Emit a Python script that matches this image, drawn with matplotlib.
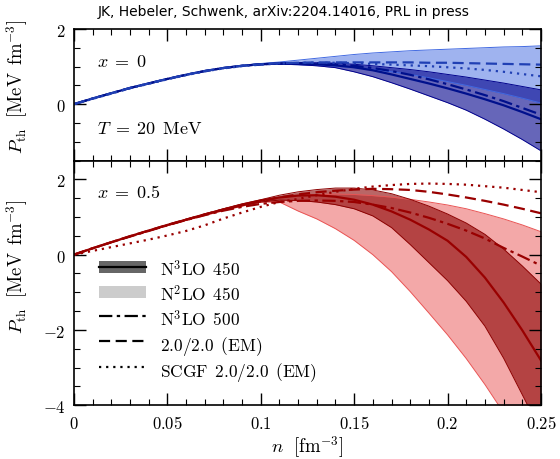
import numpy as np
import matplotlib
matplotlib.use('Agg')
import matplotlib.pyplot as plt
from matplotlib.patches import Patch, Rectangle
from matplotlib.lines import Line2D
from matplotlib.legend_handler import HandlerPatch
from matplotlib.ticker import MultipleLocator, FuncFormatter

plt.rcParams['mathtext.fontset'] = 'cm'
plt.rcParams['font.size'] = 12

# densities n [fm^-3]
n = np.round(np.arange(0, 0.2501, 0.01), 2)

# x = 0 (pure neutron matter), blue
b_solid = [0, .15, .29, .43, .55, .67, .78, .88, .96, 1.02, 1.06, 1.08, 1.08, 1.06, 1.03,
           0.98, 0.90, 0.79, 0.67, 0.55, 0.42, 0.28, 0.13, -0.03, -0.21, -0.40]
b_dashdot = [0, .15, .29, .43, .55, .67, .78, .88, .96, 1.02, 1.06, 1.08, 1.09, 1.08, 1.06,
             1.02, 0.96, 0.88, 0.78, 0.66, 0.53, 0.39, 0.24, 0.08, -0.10, -0.28]
b_dashed = [0, .15, .29, .43, .55, .67, .78, .88, .96, 1.02, 1.06, 1.09, 1.10, 1.11, 1.11,
            1.11, 1.11, 1.11, 1.11, 1.10, 1.10, 1.09, 1.08, 1.07, 1.06, 1.05]
b_dotted = [0, .14, .28, .42, .54, .66, .77, .87, .95, 1.01, 1.05, 1.08, 1.10, 1.10, 1.10,
            1.09, 1.07, 1.05, 1.03, 1.01, 0.98, 0.95, 0.91, 0.86, 0.80, 0.74]
b_n2_hi = [0, .15, .29, .43, .55, .67, .78, .88, .96, 1.03, 1.08, 1.12, 1.17, 1.22, 1.27,
           1.32, 1.36, 1.39, 1.42, 1.44, 1.46, 1.48, 1.50, 1.52, 1.53, 1.55]
b_n2_lo = [0, .15, .29, .43, .55, .67, .78, .88, .96, 1.02, 1.05, 1.06, 1.05, 1.04, 1.01,
           0.97, 0.92, 0.86, 0.79, 0.70, 0.60, 0.50, 0.39, 0.28, 0.16, 0.03]
b_n3_hi = [0, .15, .29, .43, .55, .67, .78, .88, .96, 1.02, 1.07, 1.09, 1.10, 1.10, 1.09,
           1.06, 1.02, 0.97, 0.92, 0.86, 0.79, 0.72, 0.64, 0.56, 0.47, 0.38]
b_n3_lo = [0, .15, .29, .43, .55, .67, .78, .88, .96, 1.02, 1.05, 1.06, 1.05, 1.02, 0.97,
           0.86, 0.73, 0.57, 0.40, 0.22, 0.04, -0.16, -0.40, -0.66, -0.94, -1.24]

# x = 0.5 (symmetric matter), red
r_solid = [0, .17, .33, .49, .64, .79, .93, 1.07, 1.20, 1.33, 1.44, 1.52, 1.57, 1.58, 1.54,
           1.46, 1.33, 1.15, 0.93, 0.67, 0.37, -0.06, -0.61, -1.27, -2.01, -2.81]
r_dashdot = [0, .17, .33, .48, .63, .78, .92, 1.05, 1.17, 1.27, 1.35, 1.40, 1.43, 1.44, 1.43,
             1.40, 1.33, 1.24, 1.12, 0.98, 0.82, 0.64, 0.43, 0.18, -0.05, -0.29]
r_dashed = [0, .17, .33, .49, .64, .79, .93, 1.07, 1.20, 1.32, 1.42, 1.52, 1.60, 1.66, 1.70,
            1.73, 1.75, 1.74, 1.72, 1.67, 1.60, 1.52, 1.43, 1.33, 1.22, 1.10]
r_dotted = [0, 0.10, 0.20, 0.30, 0.40, 0.51, 0.63, 0.78, 0.96, 1.12, 1.27, 1.40, 1.48, 1.58, 1.67,
            1.75, 1.81, 1.85, 1.88, 1.89, 1.88, 1.86, 1.82, 1.78, 1.72, 1.66]
r_n2_hi = [0, .17, .33, .49, .64, .79, .93, 1.07, 1.20, 1.32, 1.43, 1.52, 1.57, 1.60, 1.61,
           1.60, 1.57, 1.53, 1.47, 1.40, 1.32, 1.22, 1.09, 0.95, 0.79, 0.61]
r_n2_lo = [0, .17, .33, .48, .63, .77, .91, 1.04, 1.17, 1.29, 1.40, 1.40, 1.16, 0.95, 0.69,
           0.38, 0.0, -0.45, -0.98, -1.55, -2.13, -2.76, -3.45, -4.20, -5.00, -5.80]
r_n3_hi = [0, .17, .33, .49, .64, .79, .94, 1.08, 1.22, 1.35, 1.46, 1.58, 1.67, 1.73, 1.77,
           1.77, 1.72, 1.62, 1.47, 1.29, 1.08, 0.84, 0.54, 0.15, -0.30, -0.78]
r_n3_lo = [0, .17, .33, .48, .63, .78, .92, 1.06, 1.18, 1.30, 1.40, 1.45, 1.44, 1.40, 1.33,
           1.22, 1.03, 0.72, 0.27, -0.21, -0.69, -1.24, -1.90, -2.75, -3.72, -4.70]

legend_labels = [r'$\mathrm{N^3LO\ \,450}$', r'$\mathrm{N^2LO\ \,450}$', r'$\mathrm{N^3LO\ \,500}$',
                 r'$\mathrm{2.0/2.0\ \,(EM)}$', r'$\mathrm{SCGF\ \,2.0/2.0\ \,(EM)}$']


def draw_panel(ax, n2_hi, n2_lo, n3_hi, n3_lo, solid, dashdot, dashed, dotted,
               c_n2, c_n3, c_line, c_line2):
    ax.fill_between(n, n2_lo, n2_hi, color=c_n2, alpha=0.5, lw=0)
    ax.plot(n, n2_hi, color=c_n2, lw=0.7)
    ax.plot(n, n2_lo, color=c_n2, lw=0.7)
    ax.fill_between(n, n3_lo, n3_hi, color=c_n3, alpha=0.6, lw=0)
    ax.plot(n, n3_hi, color=c_n3, lw=0.7)
    ax.plot(n, n3_lo, color=c_n3, lw=0.7)
    ax.plot(n, solid, color=c_line, lw=1.6)
    ax.plot(n, dashdot, color=c_line, lw=1.6, dashes=(6, 2, 1.5, 2))
    ax.plot(n, dashed, color=c_line2, lw=1.6, dashes=(5, 2.5))
    ax.plot(n, dotted, color=c_line2, lw=1.6, dashes=(1, 2.2))


def legend_rect(legend, orig_handle, xdescent, ydescent, width, height, fontsize):
    # fixed-height patch centred on the line handle
    return Rectangle((-xdescent, (height - ydescent) / 2 - 0.35 * fontsize), width, 0.7 * fontsize)


fig = plt.figure(figsize=(5.6, 4.6), dpi=100)
gs = fig.add_gridspec(2, 1, height_ratios=[3.5, 6.5], hspace=0,
                      left=0.132, right=0.966, top=0.935, bottom=0.117)
ax1 = fig.add_subplot(gs[0])
ax2 = fig.add_subplot(gs[1], sharex=ax1)

draw_panel(ax1, b_n2_hi, b_n2_lo, b_n3_hi, b_n3_lo, b_solid, b_dashdot, b_dashed, b_dotted,
           '#4169e1', '#00008b', '#00108c', '#2040b4')
draw_panel(ax2, r_n2_hi, r_n2_lo, r_n3_hi, r_n3_lo, r_solid, r_dashdot, r_dashed, r_dotted,
           '#e95353', '#8b0000', '#990000', '#990000')

ax1.set_ylim(-1.5, 2)
ax2.set_ylim(-4, 2.5)
ax1.set_xlim(0, 0.25)

fmt = FuncFormatter(lambda v, pos: r'$%g$' % v)
ylab = r'$P_{\mathrm{th}}\ \ [\mathrm{MeV\ \,fm}^{-3}]$'
for ax in (ax1, ax2):
    ax.xaxis.set_major_locator(MultipleLocator(0.05))
    ax.xaxis.set_minor_locator(MultipleLocator(0.01))
    ax.yaxis.set_major_locator(MultipleLocator(2))
    ax.yaxis.set_minor_locator(MultipleLocator(0.5))
    ax.xaxis.set_major_formatter(fmt)
    ax.yaxis.set_major_formatter(fmt)
    ax.tick_params(which='both', direction='in', top=True, right=True, labelsize=12)
    ax.tick_params(which='major', length=8.5, width=1.0, pad=6)
    ax.tick_params(which='minor', length=4.5, width=0.8)
    for s in ax.spines.values():
        s.set_linewidth(1.2)
    ax.set_ylabel(ylab, fontsize=13.5)
ax1.yaxis.set_label_coords(-0.094, 0.57)
ax2.yaxis.set_label_coords(-0.094, 0.57)
ax1.tick_params(labelbottom=False)

ax2.set_xlabel(r'$n\ \ [\mathrm{fm}^{-3}]$', fontsize=13.5, labelpad=1)

ax1.text(0.05, 0.76, r'$x\;=\;0$', transform=ax1.transAxes, fontsize=13, va='center')
ax1.text(0.05, 0.25, r'$T\;=\;20\ \,\mathrm{MeV}$', transform=ax1.transAxes, fontsize=13,
         va='center')
ax2.text(0.05, 0.87, r'$x\;=\;0.5$', transform=ax2.transAxes, fontsize=13, va='center')

handles = [
    (Patch(facecolor='#666666', edgecolor='none'), Line2D([], [], color='black', lw=1.6)),
    Patch(facecolor='#cccccc', edgecolor='none'),
    Line2D([], [], color='black', lw=1.6, dashes=(6, 2, 1.5, 2)),
    Line2D([], [], color='black', lw=1.6, dashes=(5, 2.5)),
    Line2D([], [], color='black', lw=1.6, dashes=(1, 2.2)),
]
ax2.legend(handles, legend_labels, loc='upper left', bbox_to_anchor=(0.021, 0.665),
           frameon=False, fontsize=12.5, handlelength=2.7, handletextpad=0.8,
           handleheight=1.7, labelspacing=0.08,
           handler_map={Patch: HandlerPatch(patch_func=legend_rect)})

fig.text(0.175, 0.974, 'JK, Hebeler, Schwenk, arXiv:2204.14016, PRL in press',
         fontsize=10, family='DejaVu Sans', va='center')

fig.savefig('out.png', dpi=100)
